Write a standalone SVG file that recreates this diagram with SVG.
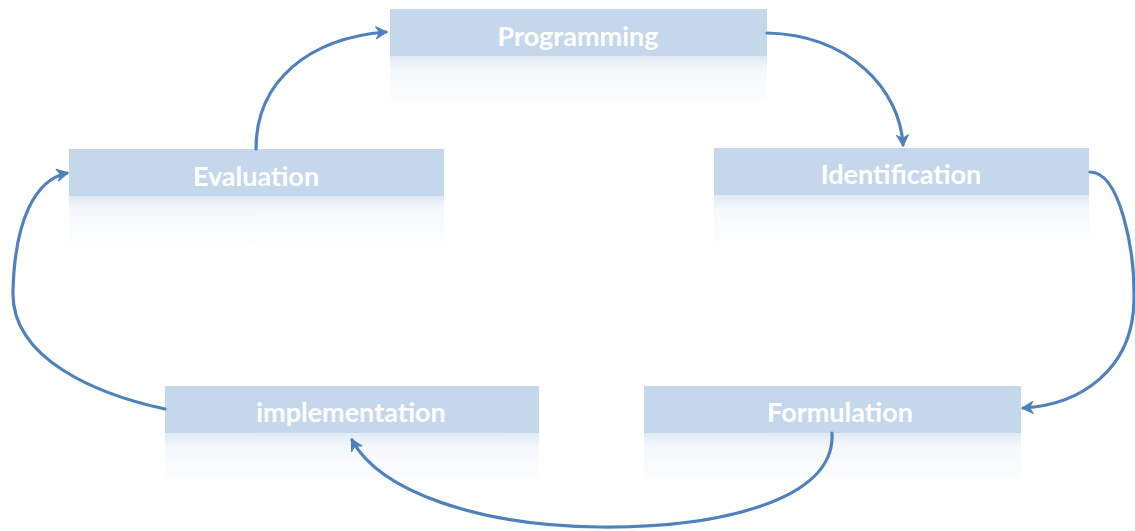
<svg xmlns="http://www.w3.org/2000/svg" width="1135" height="531" viewBox="0 0 1135 531">
<style>
.box{fill:#c5d7eb;}
.refl{fill:url(#fade);}
.lbl{font-family:Lato,"Open Sans","Liberation Sans",sans-serif;font-weight:bold;font-size:27px;fill:#ffffff;text-anchor:middle;}
.con{fill:none;stroke:#4f81bd;stroke-width:3.2;stroke-linecap:round;marker-end:url(#ah);}
</style>
<defs>
<linearGradient id="fade" x1="0" y1="0" x2="0" y2="1">
<stop offset="0" stop-color="#c5d7eb" stop-opacity="0.55"/>
<stop offset="0.3" stop-color="#c5d7eb" stop-opacity="0.18"/>
<stop offset="1" stop-color="#c5d7eb" stop-opacity="0.04"/>
</linearGradient>
<marker id="ah" viewBox="0 0 14 14" refX="11" refY="7" markerWidth="14" markerHeight="14" markerUnits="userSpaceOnUse" orient="auto">
<path d="M1,1 L12,7 L1,13 L4.5,7 Z" fill="#4f81bd" stroke="#4f81bd" stroke-width="1" stroke-linejoin="round"/>
</marker>
</defs>
<rect width="1135" height="531" fill="#ffffff"/>
<g id="node-programming">
<rect class="refl" x="390" y="56" width="377" height="46"/>
<rect class="box" x="390" y="9" width="377" height="47"/>
<text class="lbl" x="578" y="46">Programming</text>
</g>
<g id="node-evaluation">
<rect class="refl" x="69" y="196" width="375" height="46"/>
<rect class="box" x="69" y="149" width="375" height="47"/>
<text class="lbl" x="256" y="186">Evaluation</text>
</g>
<g id="node-identification">
<rect class="refl" x="714" y="195" width="375" height="46"/>
<rect class="box" x="714" y="148" width="375" height="47"/>
<text class="lbl" x="901" y="184">Identification</text>
</g>
<g id="node-implementation">
<rect class="refl" x="165" y="433" width="374" height="46"/>
<rect class="box" x="165" y="386" width="374" height="47"/>
<text class="lbl" x="351" y="422">implementation</text>
</g>
<g id="node-formulation">
<rect class="refl" x="644" y="433" width="377" height="46"/>
<rect class="box" x="644" y="386" width="377" height="47"/>
<text class="lbl" x="840" y="422">Formulation</text>
</g>
<g id="connectors">
<path class="con" d="M256,149 C256,80 310,38 386,32"/>
<path class="con" d="M767,33 C850,35 900,90 903,145"/>
<path class="con" d="M1090,172 C1120,172 1135,250 1134,300 C1133,370 1080,405 1023,408"/>
<path class="con" d="M832,433 C836,500 720,528 600,527 C480,526 380,492 352,440"/>
<path class="con" d="M165,409 C100,395 10,360 13,290 C15,220 35,180 67,173"/>
</g>
</svg>
